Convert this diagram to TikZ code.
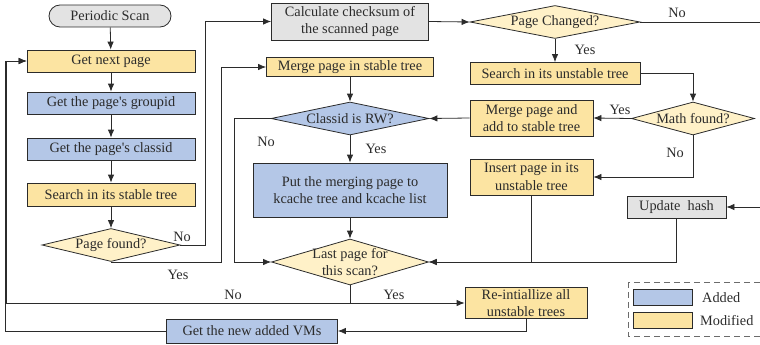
\documentclass[tikz,border=0pt]{standalone}
\usepackage{fontspec}
\setmainfont{Liberation Serif}
\usetikzlibrary{arrows.meta,shapes.geometric,shapes.misc}
\definecolor{yelbox}{HTML}{FCE4A2}
\definecolor{yeldia}{HTML}{FFF1C8}
\definecolor{bluebox}{HTML}{B4C7E7}
\definecolor{graybox}{HTML}{E3E3E3}
\definecolor{ink}{HTML}{2B2B2B}
\tikzset{
  base/.style={draw=ink, line width=0.8pt, inner sep=1pt, align=center, text=ink},
  ybox/.style={base, rectangle, fill=yelbox},
  bbox/.style={base, rectangle, fill=bluebox},
  gbox/.style={base, rectangle, fill=graybox},
  dia/.style={draw=ink, line width=0.8pt, diamond, inner sep=0pt, aspect=4},
  ydia/.style={dia, fill=yeldia},
  bdia/.style={dia, fill=bluebox},
  txt/.style={inner sep=0pt, align=center, text=ink},
  arr/.style={draw=ink, line width=0.8pt, -{Latex[length=8pt,width=6.5pt]}},
}
\begin{document}
\begin{tikzpicture}[x=1pt,y=-1pt,font=\fontsize{14.3}{17.5}\selectfont]
\useasboundingbox (0,0) rectangle (760,345);

% left column
\node[gbox, rounded rectangle, minimum width=124, minimum height=22] (scan) at (110,16) {Periodic Scan};
\node[ybox, minimum width=168, minimum height=22] (next) at (111,61) {Get next page};
\node[bbox, minimum width=168, minimum height=22] (grp) at (111,103) {Get the page\textquotesingle s groupid};
\node[bbox, minimum width=168, minimum height=22] (cls) at (111,149) {Get the page\textquotesingle s classid};
\node[ybox, minimum width=168, minimum height=23] (sst) at (111,194.5) {Search in its stable tree};
\node[ydia, minimum width=138, minimum height=33] (found) at (111,245) {};
\node[txt] (found-t) at (found) {Page found?};

% middle column
\node[gbox, minimum width=157, minimum height=37] (chk) at (350,21.5) {Calculate checksum of\\the scanned page};
\node[ybox, minimum width=167, minimum height=19] (mst) at (350,67) {Merge page in stable tree};
\node[bdia, minimum width=158, minimum height=33] (rw) at (350,118.5) {};
\node[txt] (rw-t) at (rw) {Classid is RW?};
\node[bbox, minimum width=194, minimum height=54] (put) at (350,190) {Put the merging page to\\kcache tree and kcache list};
\node[ydia, minimum width=157, minimum height=46] (last) at (350,262) {};
\node[txt] (last-t) at (last) {Last page for\\this scan?};
\node[bbox, minimum width=171, minimum height=24] (vms) at (252,331) {Get the new added VMs};

% right column
\node[ydia, minimum width=170, minimum height=33] (chg) at (555,22) {};
\node[txt] (chg-t) at (chg) {Page Changed?};
\node[ybox, minimum width=170, minimum height=22] (uns) at (555,73.5) {Search in its unstable tree};
\node[ydia, minimum width=123, minimum height=33] (math) at (693,118.5) {};
\node[txt] (math-t) at (math) {Math found?};
\node[ybox, minimum width=123, minimum height=36] (madd) at (531.5,118) {Merge page and\\add to stable tree};
\node[ybox, minimum width=123, minimum height=36] (ins) at (531.5,177) {Insert page in its\\unstable tree};
\node[gbox, minimum width=99, minimum height=22] (upd) at (676.5,207) {Update\ \ hash};
\node[ybox, minimum width=122, minimum height=31] (reinit) at (526,303) {Re-intiallize all\\unstable trees};

% connectors
\draw[arr] (scan) -- (next);
\draw[arr] (next) -- (grp);
\draw[arr] (grp) -- (cls);
\draw[arr] (cls) -- (sst);
\draw[arr] (sst) -- (found);
\draw[arr] (found.east) -- ++(25,0) |- (chk.west);
\draw[arr] (found.south) -- ++(110,0) |- (mst.west);
\draw[arr] (chk.east) -- (chg.west);
\draw[arr] (chg.east) -- ++(130,0) |- (upd.east);
\draw[arr] (chg.south) -- (uns.north);
\draw[arr] (uns.east) -| (math.north);
\draw[arr] (math.west) -- (madd.east);
\draw[arr] (math.south) |- (ins.east);
\draw[arr] (madd.west) -- (rw.east);
\draw[arr] (mst.south) -- (rw.north);
\draw[arr] (rw.south) -- (put.north);
\draw[arr] (rw.west) -- ++(-36,0) |- (last.west);
\draw[arr] (put.south) -- (last.north);
\draw[arr] (ins.south) |- (last.east);
\draw[arr] (upd.south) |- (last.east);
\draw[arr] (last.south) -- ++(0,18) -- ++(-344,0) |- (next.west);
\draw[arr] (last.south) |- (reinit.west);
\draw[arr] (reinit.south) |- (vms.east);
\draw[arr] (vms.west) -- ++(-160.5,0) |- (next.west);

% branch labels
\node[txt] (l1) at (182,237) {No};
\node[txt] (l2) at (178,275) {Yes};
\node[txt] (l3) at (233,295) {No};
\node[txt] (l4) at (394,295) {Yes};
\node[txt] (l5) at (266,142) {No};
\node[txt] (l6) at (376,149) {Yes};
\node[txt] (l7) at (677,13) {No};
\node[txt] (l8) at (585,50) {Yes};
\node[txt] (l9) at (620,110) {Yes};
\node[txt] (l10) at (675,153) {No};

% legend
\draw[draw=ink!70, line width=1pt, dash pattern=on 6pt off 4pt] (628,282) rectangle (780,336);
\node[bbox, minimum width=59, minimum height=16] (sw1) at (662.5,297.5) {};
\node[ybox, minimum width=59, minimum height=16] (sw2) at (662.5,320.5) {};
\node[txt, anchor=west] (lg1) at (702,297.5) {Added};
\node[txt, anchor=west] (lg2) at (700,320.5) {Modified};
\end{tikzpicture}
\end{document}
